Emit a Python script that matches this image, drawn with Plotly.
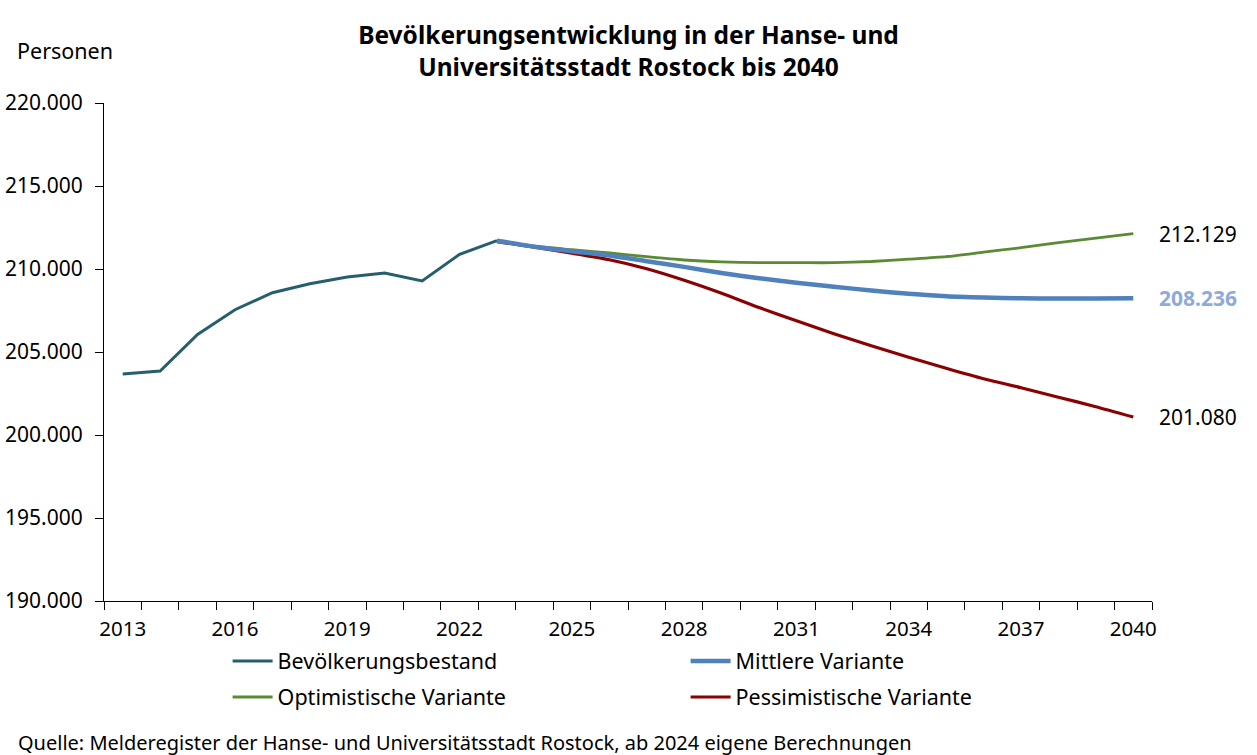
import plotly.graph_objects as go

years_hist = list(range(2013, 2024))
bestand = [203675, 203855, 206060, 207548, 208572, 209114, 209518, 209759, 209277, 210880, 211705]

years_proj = list(range(2023, 2041))
mittlere = [211705, 211343, 211072, 210819, 210470, 210127, 209759, 209446, 209175, 208934,
            208705, 208512, 208361, 208283, 208235, 208223, 208223, 208236]
optimistisch = [211705, 211373, 211163, 210964, 210741, 210542, 210428, 210380, 210380, 210380,
                210452, 210590, 210741, 211012, 211283, 211584, 211855, 212129]
pessimistisch = [211650, 211313, 210952, 210560, 210018, 209325, 208542, 207680, 206886, 206102,
                 205380, 204687, 204024, 203392, 202850, 202277, 201705, 201080]

x_ticks = list(range(2013, 2041, 3))
y_ticks = list(range(190000, 220001, 5000))

FONT = "Noto Sans"
c_best = "#255F6E"
c_mit = "#4F81BD"
c_opt = "#5A8A32"
c_pes = "#8B0000"

W, H = 1257, 755
ML, MR, MT, MB = 104, 105, 103, 154
pw = W - ML - MR
ph = H - MT - MB


def px(xp):
    return (xp - ML) / pw


def py(yp):
    return (H - MB - yp) / ph


fig = go.Figure()
fig.add_trace(go.Scatter(x=years_hist, y=bestand, mode="lines", name="Bevölkerungsbestand",
                         line=dict(color=c_best, width=3), legend="legend"))
fig.add_trace(go.Scatter(x=years_proj, y=pessimistisch, mode="lines", name="Pessimistische Variante",
                         line=dict(color=c_pes, width=3.2, shape="spline", smoothing=0.6), legend="legend4"))
fig.add_trace(go.Scatter(x=years_proj, y=optimistisch, mode="lines", name="Optimistische Variante",
                         line=dict(color=c_opt, width=2.8, shape="spline", smoothing=0.6), legend="legend3"))
fig.add_trace(go.Scatter(x=years_proj, y=mittlere, mode="lines", name="Mittlere Variante",
                         line=dict(color=c_mit, width=4.5, shape="spline", smoothing=0.6), legend="legend2"))


def fmt(v):
    return f"{v:,}".replace(",", ".")


ann = [
    (optimistisch[-1], "black", False),
    (mittlere[-1], "#8EAADB", True),
    (pessimistisch[-1], "black", False),
]
for val, col, bold in ann:
    t = fmt(val)
    fig.add_annotation(x=years_proj[-1], y=val, xref="x", yref="y",
                       text=(f"<b>{t}</b>" if bold else t),
                       showarrow=False, xanchor="left", yanchor="middle", xshift=24,
                       font=dict(family=FONT, size=21, color=col))

fig.add_annotation(x=px(15), y=py(50), xref="paper", yref="paper", text="Personen", showarrow=False,
                   xanchor="left", yanchor="middle", font=dict(family=FONT, size=21.5, color="black"))
fig.add_annotation(x=px(16), y=py(742), xref="paper", yref="paper",
                   text="Quelle: Melderegister der Hanse- und Universitätsstadt Rostock, ab 2024 eigene Berechnungen",
                   showarrow=False, xanchor="left", yanchor="middle", font=dict(family=FONT, size=20, color="black"))

leg_common = dict(orientation="h", xanchor="left", yanchor="middle", font=dict(size=21.5),
                  itemwidth=40, bgcolor="rgba(0,0,0,0)")
col1, col2 = px(227.6), px(685.6)
row1, row2 = py(661), py(697)

fig.update_layout(
    width=W, height=H,
    margin=dict(l=ML, r=MR, t=MT, b=MB, autoexpand=False),
    paper_bgcolor="white", plot_bgcolor="white",
    separators=",.",
    font=dict(family=FONT, size=20, color="black"),
    title=dict(text="<b>Bevölkerungsentwicklung in der Hanse- und<br>Universitätsstadt Rostock bis 2040</b>",
               x=0.5, xanchor="center", y=1 - 44 / H, yanchor="middle",
               font=dict(family=FONT, size=24.5, color="black")),
    showlegend=True,
    legend=dict(x=col1, y=row1, **leg_common),
    legend2=dict(x=col2, y=row1, **leg_common),
    legend3=dict(x=col1, y=row2, **leg_common),
    legend4=dict(x=col2, y=row2, **leg_common),
)

fig.update_xaxes(range=[2012.5, 2040.5], tickvals=x_ticks, ticks="", showgrid=False, zeroline=False,
                 showline=True, linecolor="black", linewidth=1.2, automargin=False,
                 tickfont=dict(size=20.5), ticklabelstandoff=9,
                 minor=dict(tick0=2012.5, dtick=1, ticks="outside", ticklen=8, tickcolor="black",
                            tickwidth=1.2, showgrid=False))
fig.update_yaxes(range=[190000, 220000], tickvals=y_ticks, tickformat=",d", ticks="outside", ticklen=8,
                 tickcolor="black", tickwidth=1.2, showgrid=False, zeroline=False, automargin=False,
                 showline=True, linecolor="black", linewidth=1.2, tickfont=dict(size=21),
                 ticklabelstandoff=8)

fig.write_html("out.html", config={"displayModeBar": False},
               post_script="document.body.style.margin='0';document.body.style.padding='0';")
